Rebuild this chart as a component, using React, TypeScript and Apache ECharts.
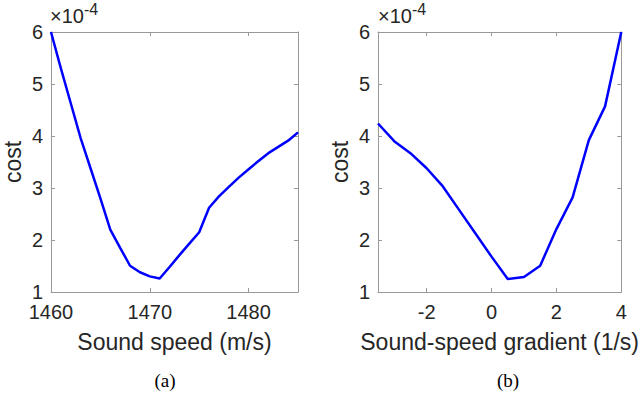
import React, { useEffect, useRef } from "react";
import * as echarts from "echarts";

// Panel (a): cost vs sound speed
const speedX = [1460, 1461, 1462, 1463, 1464, 1465, 1466, 1467, 1468, 1469, 1470, 1471, 1472, 1473, 1474, 1475, 1476, 1477, 1478, 1479, 1480, 1481, 1482, 1483, 1484, 1485];
const speedCost = [6.0, 5.3, 4.63, 3.96, 3.38, 2.8, 2.2, 1.85, 1.505, 1.38, 1.3, 1.26, 1.48, 1.71, 1.93, 2.15, 2.62, 2.84, 3.02, 3.2, 3.36, 3.52, 3.67, 3.79, 3.91, 4.07];
// Panel (b): cost vs sound-speed gradient
const gradX = [-3.5, -3, -2.5, -2, -1.5, -1, -0.5, 0, 0.5, 1, 1.5, 2, 2.5, 3, 3.5, 4];
const gradCost = [4.24, 3.9, 3.67, 3.38, 3.03, 2.58, 2.13, 1.68, 1.25, 1.29, 1.505, 2.21, 2.82, 3.92, 4.57, 6.0];

const speedTicks = [1460, 1470, 1480];
const gradTicks = [-2, 0, 2, 4];
const yTicks = [1, 2, 3, 4, 5, 6];

const FONT = "Liberation Sans";
const TXT = "#262626";
const AX = "#999999";

function axes(gridIndex: number, min: number, max: number, ticks: number[], name: string) {
  const x = [
    {
      type: "value", gridIndex, min, max, position: "bottom",
      name, nameLocation: "middle", nameGap: 38,
      nameTextStyle: { fontFamily: FONT, fontSize: 23, color: TXT },
      axisLine: { show: true, onZero: false, lineStyle: { color: AX, width: 1 } },
      axisTick: { show: true, inside: true, length: 4, customValues: ticks, lineStyle: { color: AX } },
      axisLabel: { show: true, customValues: ticks, formatter: (v: number) => String(v), fontFamily: FONT, fontSize: 20, color: TXT, margin: 10 },
      splitLine: { show: false },
    },
    {
      type: "value", gridIndex, min, max, position: "top",
      axisLine: { show: true, onZero: false, lineStyle: { color: AX, width: 1 } },
      axisTick: { show: true, inside: true, length: 4, customValues: ticks, lineStyle: { color: AX } },
      axisLabel: { show: false },
      splitLine: { show: false },
    },
  ];
  const y = [
    {
      type: "value", gridIndex, min: 1, max: 6, position: "left",
      name: "cost", nameLocation: "middle", nameGap: 27, nameRotate: 90,
      nameTextStyle: { fontFamily: FONT, fontSize: 23, color: TXT },
      axisLine: { show: true, onZero: false, lineStyle: { color: AX, width: 1 } },
      axisTick: { show: true, inside: true, length: 4, customValues: yTicks, lineStyle: { color: AX } },
      axisLabel: { show: true, customValues: yTicks, formatter: (v: number) => String(v), fontFamily: FONT, fontSize: 20, color: TXT, margin: 8 },
      splitLine: { show: false },
    },
    {
      type: "value", gridIndex, min: 1, max: 6, position: "right",
      axisLine: { show: true, onZero: false, lineStyle: { color: AX, width: 1 } },
      axisTick: { show: true, inside: true, length: 4, customValues: yTicks, lineStyle: { color: AX } },
      axisLabel: { show: false },
      splitLine: { show: false },
    },
  ];
  return { x, y };
}

export default function App() {
  const ref = useRef<HTMLDivElement>(null);
  useEffect(() => {
    if (!ref.current) return;
    const chart = echarts.init(ref.current, null, { renderer: "svg" });
    const a = axes(0, 1460, 1485, speedTicks, "Sound speed (m/s)");
    const b = axes(1, -3.5, 4, gradTicks, "Sound-speed gradient (1/s)");
    const expText = (left: number) => ({
      type: "text",
      left,
      top: 1,
      style: {
        text: "{m|×10}{s|-4}",
        rich: {
          m: { fontFamily: FONT, fontSize: 20, fill: TXT, verticalAlign: "bottom", lineHeight: 25 },
          s: { fontFamily: FONT, fontSize: 16, fill: TXT, verticalAlign: "top", lineHeight: 25, padding: [0, 0, 10, 0] },
        },
      },
    });
    chart.setOption({
      animation: false,
      backgroundColor: "#ffffff",
      grid: [
        { left: 49, top: 32, width: 249, height: 260, containLabel: false },
        { left: 378, top: 32, width: 248, height: 260, containLabel: false },
      ],
      xAxis: [...a.x, ...b.x],
      yAxis: [...a.y, ...b.y],
      series: [
        {
          type: "line", xAxisIndex: 0, yAxisIndex: 0, symbol: "none",
          lineStyle: { color: "#0000ff", width: 2.5 },
          data: speedX.map((v, i) => [v, speedCost[i]]),
        },
        {
          type: "line", xAxisIndex: 2, yAxisIndex: 2, symbol: "none",
          lineStyle: { color: "#0000ff", width: 2.5 },
          data: gradX.map((v, i) => [v, gradCost[i]]),
        },
      ],
      graphic: [
        expText(50),
        expText(378),
        { type: "text", x: 165, y: 380, style: { text: "(a)", fontFamily: "Liberation Serif", fontSize: 19, fill: "#000", align: "center", verticalAlign: "middle" } },
        { type: "text", x: 508, y: 380, style: { text: "(b)", fontFamily: "Liberation Serif", fontSize: 19, fill: "#000", align: "center", verticalAlign: "middle" } },
      ],
    });
    return () => chart.dispose();
  }, []);
  return <div ref={ref} style={{ position: "absolute", left: 0, top: 0, width: 642, height: 397 }} />;
}
